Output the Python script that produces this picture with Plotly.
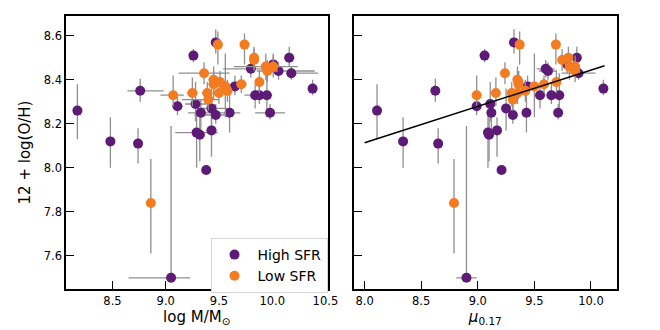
import plotly.graph_objects as go

# High SFR galaxies
hi_mass = [8.17, 8.76, 8.48, 8.74, 9.05, 9.11, 9.26, 9.28, 9.33, 9.29, 9.32, 9.43, 9.38, 9.43,
           9.47, 9.60, 9.65, 9.47, 9.80, 9.84, 9.88, 9.95, 9.98, 10.01, 10.06, 10.16, 10.18, 10.38]
hi_mu = [8.11, 8.625, 8.34, 8.65, 8.90, 8.99, 9.06, 9.11, 9.12, 9.09, 9.10, 9.17, 9.21, 9.25,
         9.31, 9.43, 9.44, 9.32, 9.60, 9.55, 9.65, 9.72, 9.71, 9.79, 9.62, 9.875, 9.89, 10.11]
hi_oh = [8.26, 8.35, 8.12, 8.11, 7.50, 8.28, 8.51, 8.29, 8.25, 8.16, 8.15, 8.17, 7.99, 8.27,
         8.24, 8.25, 8.37, 8.57, 8.45, 8.33, 8.33, 8.33, 8.25, 8.47, 8.44, 8.50, 8.43, 8.36]
hi_oh_up = [0.12, 0.055, 0.11, 0.07, 0.69, 0.04, 0.03, 0.10, 0.06, 0.10, 0.08, 0.06, 0.02, 0.09,
            0.05, 0.12, 0.05, 0.06, 0.04, 0.05, 0.06, 0.10, 0.04, 0.05, 0.04, 0.05, 0.03, 0.04]
hi_oh_dn = [0.13, 0.05, 0.12, 0.09, 0.0, 0.04, 0.03, 0.08, 0.10, 0.16, 0.12, 0.12, 0.02, 0.10,
            0.04, 0.09, 0.04, 0.05, 0.04, 0.06, 0.04, 0.10, 0.03, 0.04, 0.04, 0.04, 0.03, 0.03]
hi_mass_lo = [0, 0.12, 0, 0, 0.40, 0.05, 0.02, 0.10, 0.12, 0.20, 0.05, 0.05, 0.04, 0.14,
              0.20, 0.10, 0.05, 0.02, 0.26, 0.10, 0.06, 0.05, 0.14, 0.05, 0.06, 0.05, 0.05, 0.02]
hi_mass_hi = [0, 0.22, 0, 0, 0.18, 0.05, 0.02, 0.10, 0.12, 0.20, 0.05, 0.05, 0.04, 0.15,
              0.12, 0.10, 0.05, 0.02, 0.14, 0.10, 0.06, 0.05, 0.14, 0.05, 0.34, 0.05, 0.25, 0.02]
hi_mu_err = [0, 0, 0, 0, 0.09, 0.02, 0.02, 0.03, 0.02, 0.02, 0.02, 0.02, 0.02, 0.03,
             0.03, 0.02, 0.03, 0.02, 0.08, 0.02, 0.02, 0.02, 0.03, 0.02, 0.08, 0.02, 0.15, 0.02]

# Low SFR galaxies
lo_mass = [8.86, 9.07, 9.25, 9.36, 9.39, 9.40, 9.45, 9.45, 9.51, 9.50, 9.56, 9.58, 9.71,
           9.49, 9.74, 9.83, 9.83, 9.88, 9.94, 9.955, 10.01]
lo_mu = [8.79, 8.99, 9.16, 9.24, 9.30, 9.31, 9.35, 9.36, 9.36, 9.35, 9.50, 9.42, 9.585,
         9.37, 9.69, 9.80, 9.745, 9.695, 9.81, 9.86, 9.86]
lo_oh = [7.84, 8.33, 8.34, 8.43, 8.34, 8.31, 8.40, 8.38, 8.39, 8.34, 8.37, 8.35, 8.38,
         8.56, 8.56, 8.50, 8.49, 8.39, 8.46, 8.44, 8.46]
lo_oh_up = [0.20, 0.09, 0.07, 0.05, 0.05, 0.04, 0.06, 0.06, 0.05, 0.05, 0.15, 0.05, 0.04,
            0.06, 0.05, 0.05, 0.05, 0.05, 0.06, 0.05, 0.05]
lo_oh_dn = [0.23, 0.05, 0.06, 0.05, 0.06, 0.05, 0.05, 0.07, 0.04, 0.05, 0.14, 0.05, 0.04,
            0.09, 0.09, 0.05, 0.05, 0.05, 0.06, 0.05, 0.05]
lo_mass_lo = [0, 0.12, 0.05, 0.24, 0.05, 0.25, 0.05, 0.05, 0.06, 0.05, 0.05, 0.05, 0.05,
              0.03, 0.02, 0.03, 0.03, 0.04, 0.30, 0.10, 0.05]
lo_mass_hi = [0, 0.10, 0.05, 0.24, 0.05, 0.10, 0.05, 0.05, 0.06, 0.05, 0.05, 0.05, 0.05,
              0.03, 0.02, 0.03, 0.03, 0.04, 0.30, 0.10, 0.05]
lo_mu_err = [0, 0.02, 0.02, 0.02, 0.02, 0.02, 0.02, 0.02, 0.02, 0.02, 0.02, 0.02, 0.02,
             0.02, 0.02, 0.02, 0.02, 0.02, 0.02, 0.02, 0.02]

# linear fit in the right panel
fit_slope = 0.165
fit_intercept = 6.794
fit_x = [8.0, 10.12]

PURPLE = "#5d1a76"
ORANGE = "#f57b20"
ERRC = "#8f8f8f"

# page body has an 8px margin, so work in shifted pixel coords
W, H = 652, 322
OFF = 8


def px_x(p):
    return (p - OFF) / W


def px_y(p):
    return 1 - (p - OFF) / H


def err(arr, arrminus=None):
    d = dict(type="data", array=arr, color=ERRC, thickness=1.3, width=0, visible=True)
    if arrminus is not None:
        d["symmetric"] = False
        d["arrayminus"] = arrminus
    return d


fig = go.Figure()

# left panel: stellar mass
fig.add_trace(go.Scatter(
    x=hi_mass, y=hi_oh, mode="markers", name="High SFR",
    marker=dict(color=PURPLE, size=10),
    error_x=err(hi_mass_hi, hi_mass_lo), error_y=err(hi_oh_up, hi_oh_dn),
    xaxis="x", yaxis="y"))
fig.add_trace(go.Scatter(
    x=lo_mass, y=lo_oh, mode="markers", name="Low SFR",
    marker=dict(color=ORANGE, size=10),
    error_x=err(lo_mass_hi, lo_mass_lo), error_y=err(lo_oh_up, lo_oh_dn),
    xaxis="x", yaxis="y"))

# right panel: mu_0.17
fig.add_trace(go.Scatter(
    x=hi_mu, y=hi_oh, mode="markers", showlegend=False,
    marker=dict(color=PURPLE, size=10),
    error_x=err(hi_mu_err), error_y=err(hi_oh_up, hi_oh_dn),
    xaxis="x2", yaxis="y2"))
fig.add_trace(go.Scatter(
    x=lo_mu, y=lo_oh, mode="markers", showlegend=False,
    marker=dict(color=ORANGE, size=10),
    error_x=err(lo_mu_err), error_y=err(lo_oh_up, lo_oh_dn),
    xaxis="x2", yaxis="y2"))

fit_y = [fit_intercept + fit_slope * v for v in fit_x]
fig.add_trace(go.Scatter(
    x=fit_x, y=fit_y, mode="lines", showlegend=False,
    line=dict(color="black", width=1.5), xaxis="x2", yaxis="y2"))

axis_common = dict(
    showline=True, linecolor="black", linewidth=1.5, mirror=True,
    ticks="inside", ticklen=8, tickwidth=1, tickcolor="black",
    showgrid=False, zeroline=False,
    tickfont=dict(family="DejaVu Sans", size=11.5, color="black"),
)

ydom = [px_y(289), px_y(16)]

fig.update_layout(
    width=W, height=H,
    margin=dict(l=0, r=0, t=0, b=0),
    paper_bgcolor="white", plot_bgcolor="white",
    font=dict(family="DejaVu Sans", color="black"),
    xaxis=dict(axis_common, domain=[px_x(67), px_x(333)], range=[8.063, 10.52],
               tickvals=[8.5, 9.0, 9.5, 10.0, 10.5], tickformat=".1f",
               title=dict(text="log M/M<sub>⊙</sub>", font=dict(size=15), standoff=1)),
    yaxis=dict(axis_common, domain=ydom, range=[7.449, 8.69],
               tickvals=[7.6, 7.8, 8.0, 8.2, 8.4, 8.6], tickformat=".1f",
               title=dict(text="12 + log(O/H)", font=dict(size=15), standoff=9)),
    xaxis2=dict(axis_common, domain=[px_x(360), px_x(627)], range=[7.907, 10.226],
                tickvals=[8.0, 8.5, 9.0, 9.5, 10.0], tickformat=".1f", anchor="y2",
                title=dict(text="<i>μ</i><sub>0.17</sub>", font=dict(size=15), standoff=1)),
    yaxis2=dict(axis_common, domain=ydom, range=[7.449, 8.69], anchor="x2",
                tickvals=[7.6, 7.8, 8.0, 8.2, 8.4, 8.6], showticklabels=False),
    legend=dict(x=px_x(214), y=px_y(238), xanchor="left", yanchor="top",
                bgcolor="white", bordercolor="#d6d6d6", borderwidth=1,
                itemwidth=36, font=dict(size=14, family="DejaVu Sans")),
)

fig.write_html("out.html")
